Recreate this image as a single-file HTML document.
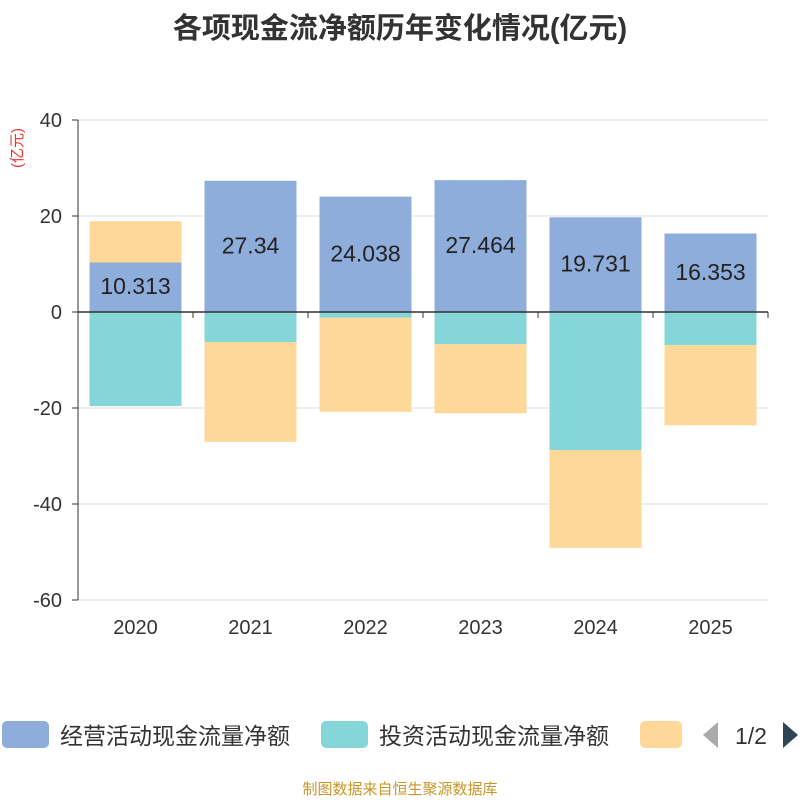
<!DOCTYPE html>
<html><head><meta charset="utf-8"><style>
body{margin:0;background:#fff;font-family:"Liberation Sans","Noto Sans CJK SC",sans-serif}
</style></head><body>
<svg id="c" width="800" height="800" xmlns="http://www.w3.org/2000/svg" style="font-family:'Liberation Sans','Noto Sans CJK SC',sans-serif">
<text x="400" y="38" text-anchor="middle" font-size="29" font-weight="bold" fill="#333">各项现金流净额历年变化情况(亿元)</text>
<text transform="translate(22,148) rotate(-90)" text-anchor="middle" font-size="15" fill="#e33">(亿元)</text>
<g id="grid"></g><g id="bars"></g><g id="axes"></g>
<g>
<rect x="2" y="721" width="47" height="27" rx="5" fill="#8eaddb"/>
<text x="60" y="744" font-size="23" fill="#333">经营活动现金流量净额</text>
<rect x="321" y="721" width="47" height="27" rx="5" fill="#86d5d8"/>
<text x="379" y="744" font-size="23" fill="#333">投资活动现金流量净额</text>
<rect x="640" y="721" width="42" height="27" rx="5" fill="#fed898"/>
<polygon points="718,722 718,748 703,735" fill="#aaa"/>
<text x="751" y="744" text-anchor="middle" font-size="23" fill="#333">1/2</text>
<polygon points="783,722 783,748 798,735" fill="#2f4554"/>
</g>
<text x="400" y="794" text-anchor="middle" font-size="15" fill="#c8962a">制图数据来自恒生聚源数据库</text>
</svg>
<script>
const years=["2020","2021","2022","2023","2024","2025"];
const operating=[10.313,27.34,24.038,27.464,19.731,16.353];
const investing=[-19.6,-6.25,-1.2,-6.7,-28.75,-6.9];
const financing=[8.6,-20.8,-19.6,-14.4,-20.4,-16.7];
const yTicks=[40,20,0,-20,-40,-60];
const NS="http://www.w3.org/2000/svg";
const x0=78,x1=768,yTop=120,yBot=600,vMax=40,vMin=-60;
const y=v=>yTop+(vMax-v)/(vMax-vMin)*(yBot-yTop);
const band=(x1-x0)/years.length;
const xc=i=>x0+band*(i+0.5);
function mk(t,a,p){const e=document.createElementNS(NS,t);for(const k in a)e.setAttribute(k,a[k]);p.appendChild(e);return e;}
const grid=document.getElementById('grid'),bars=document.getElementById('bars'),axes=document.getElementById('axes');
yTicks.forEach(v=>{
 const l=mk('line',{x1:x0,x2:x1,y1:y(v),y2:y(v),stroke:v===0?'#333':'#ddd','stroke-width':v===0?1.5:1},v===0?axes:grid);
 
 
 const t=mk('text',{x:x0-16,y:y(v)+7,'text-anchor':'end','font-size':20,fill:'#333'},axes);
 t.textContent=v;
 
 
 const tk=mk('line',{x1:x0-6,x2:x0,y1:y(v),y2:y(v),stroke:'#333'},axes);
 
 
});
const ya=mk('line',{x1:x0,x2:x0,y1:yTop,y2:yBot,stroke:'#333'},axes);


for(let i=0;i<=years.length;i++){const tk=mk('line',{x1:x0+band*i,x2:x0+band*i,y1:y(0),y2:y(0)+6,stroke:'#333'},axes);
 
 }
const bw=92,series=[[operating,'#8eaddb','operating'],[investing,'#86d5d8','investing'],[financing,'#fed898','financing']];
years.forEach((yr,i)=>{
 let pos=0,neg=0;
 series.forEach(([arr,col,nm])=>{
  const v=arr[i];let a,b;
  if(v>=0){a=pos;b=pos+v;pos=b;}else{a=neg;b=neg+v;neg=b;}
  const r=mk('rect',{x:xc(i)-bw/2,y:Math.min(y(a),y(b)),width:bw,height:Math.abs(y(a)-y(b)),fill:col},bars);
  
  
 });
 const t=mk('text',{x:xc(i),y:(y(0)+y(operating[i]))/2+7,'text-anchor':'middle','font-size':23,fill:'#222'},bars);
 t.textContent=operating[i];
 
 
 const xl=mk('text',{x:xc(i),y:634,'text-anchor':'middle','font-size':20,fill:'#333'},axes);
 xl.textContent=yr;
 
 
});
</script>
</body></html>
